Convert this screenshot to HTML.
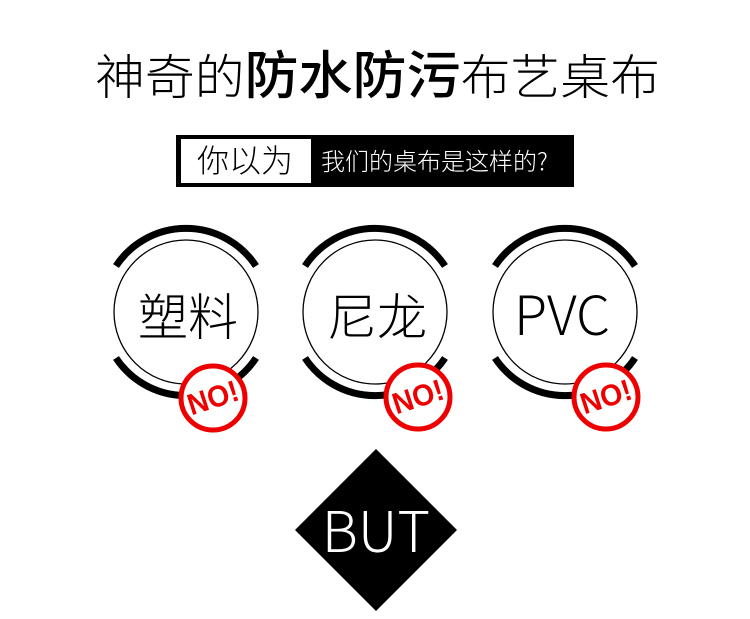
<!DOCTYPE html>
<html><head><meta charset="utf-8"><style>
body{margin:0;background:#fff;width:750px;height:619px;overflow:hidden;font-family:"Liberation Sans","Noto Sans CJK SC",sans-serif}
</style></head><body>
<svg width="750" height="619" xmlns="http://www.w3.org/2000/svg" style="position:absolute;left:0;top:0">
<text x="95" y="94" font-family="Noto Sans CJK SC, sans-serif" font-size="48" font-weight="300" fill="#000" textLength="565" lengthAdjust="spacingAndGlyphs">神奇的<tspan font-weight="500" font-size="52">防水防污</tspan>布艺桌布</text>
<rect x="176" y="135" width="398" height="52" fill="#000"/>
<rect x="181" y="139" width="130" height="44" fill="#fff"/>
<text x="245" y="172" text-anchor="middle" font-family="Noto Sans CJK SC, sans-serif" font-size="32" font-weight="300">你以为</text>
<text x="321" y="170" font-family="Noto Sans CJK SC, sans-serif" font-size="24" fill="#fff" font-weight="300">我们的桌布是这样的?</text>
<g transform="translate(186,312)">
<path d="M-70,-46 A84,84 0 0 1 70,-46" fill="none" stroke="#000" stroke-width="7"/>
<path d="M-70,46 A84,84 0 0 0 70,46" fill="none" stroke="#000" stroke-width="7"/>
<circle r="72" fill="#fff" stroke="#000" stroke-width="1.3"/>
</g>
<g transform="translate(375,312)">
<path d="M-70,-46 A84,84 0 0 1 70,-46" fill="none" stroke="#000" stroke-width="7"/>
<path d="M-70,46 A84,84 0 0 0 70,46" fill="none" stroke="#000" stroke-width="7"/>
<circle r="72" fill="#fff" stroke="#000" stroke-width="1.3"/>
</g>
<g transform="translate(565,312)">
<path d="M-70,-46 A84,84 0 0 1 70,-46" fill="none" stroke="#000" stroke-width="7"/>
<path d="M-70,46 A84,84 0 0 0 70,46" fill="none" stroke="#000" stroke-width="7"/>
<circle r="72" fill="#fff" stroke="#000" stroke-width="1.3"/>
</g>
<text x="188" y="335" text-anchor="middle" font-family="Noto Sans CJK SC, sans-serif" font-size="50" font-weight="300">塑料</text>
<text x="377" y="335" text-anchor="middle" font-family="Noto Sans CJK SC, sans-serif" font-size="50" font-weight="300">尼龙</text>
<text x="562" y="335" text-anchor="middle" font-family="Noto Sans CJK SC, sans-serif" font-weight="300" font-size="54">PVC</text>
<g transform="translate(213,398)"><circle r="32" fill="#fff" stroke="#e00" stroke-width="5"/><text x="0" y="10" text-anchor="middle" transform="rotate(-18)" font-size="30" font-weight="bold" fill="#e00" textLength="52" lengthAdjust="spacingAndGlyphs">NO!</text></g>
<g transform="translate(418,397)"><circle r="32" fill="#fff" stroke="#e00" stroke-width="5"/><text x="0" y="10" text-anchor="middle" transform="rotate(-18)" font-size="30" font-weight="bold" fill="#e00" textLength="52" lengthAdjust="spacingAndGlyphs">NO!</text></g>
<g transform="translate(606,397)"><circle r="32" fill="#fff" stroke="#e00" stroke-width="5"/><text x="0" y="10" text-anchor="middle" transform="rotate(-18)" font-size="30" font-weight="bold" fill="#e00" textLength="52" lengthAdjust="spacingAndGlyphs">NO!</text></g>
<polygon points="376,449 457,530 376,611 295,530" fill="#000"/>
<text x="376" y="552" text-anchor="middle" font-family="Noto Sans CJK SC, sans-serif" font-weight="300" font-size="56" fill="#fff">BUT</text>
</svg>
</body></html>
